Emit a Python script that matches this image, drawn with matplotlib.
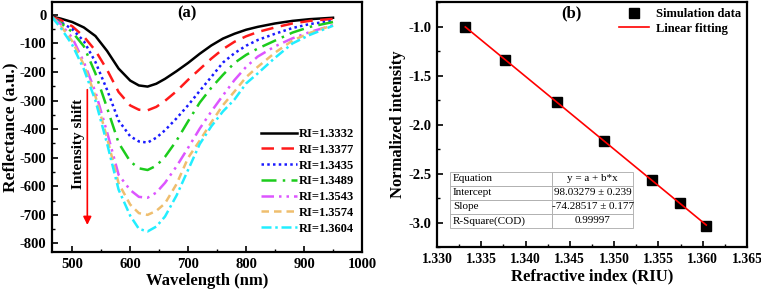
import numpy as np
import matplotlib
matplotlib.use("Agg")
import matplotlib.pyplot as plt
from matplotlib.ticker import MultipleLocator, FormatStrFormatter

plt.rcParams['font.family'] = ['Liberation Serif', 'DejaVu Serif']
plt.rcParams['font.weight'] = 'bold'
plt.rcParams['axes.unicode_minus'] = False

# ---- panel (a): reflectance spectra ----
wavelength = [465, 480, 500, 520, 540, 560, 580, 600, 615, 630, 645, 660, 680,
              700, 720, 740, 760, 780, 800, 820, 850, 880, 910, 950]
r_13332 = [-6, -13, -25, -44, -74, -126, -188, -230, -247, -251, -241, -224, -197,
           -168, -136, -107, -83, -66, -52, -42, -30, -21, -15, -10]
r_13377 = [-7, -18, -40, -76, -125, -192, -270, -317, -332, -334, -322, -301, -267,
           -227, -190, -153, -120, -94, -75, -60, -44, -30, -21, -14]
r_13435 = [-8, -25, -50, -92, -165, -262, -370, -425, -443, -447, -430, -404, -362,
           -316, -266, -217, -167, -134, -108, -88, -66, -46, -32, -21]
r_13489 = [-8, -28, -60, -110, -205, -325, -448, -513, -537, -543, -528, -497, -440,
           -372, -307, -255, -210, -168, -140, -118, -90, -62, -42, -25]
r_13543 = [-8, -32, -80, -165, -270, -410, -560, -613, -637, -640, -622, -588, -530,
           -465, -398, -338, -282, -228, -182, -146, -110, -82, -60, -36]
r_13574 = [-8, -38, -92, -175, -285, -430, -590, -664, -694, -700, -686, -660, -592,
           -500, -440, -376, -316, -268, -218, -182, -132, -90, -63, -36]
r_13604 = [-8, -45, -105, -190, -300, -450, -612, -703, -749, -758, -741, -706, -632,
           -542, -452, -390, -338, -296, -240, -205, -150, -100, -70, -38]

ri_labels = ['RI=1.3332', 'RI=1.3377', 'RI=1.3435', 'RI=1.3489',
             'RI=1.3543', 'RI=1.3574', 'RI=1.3604']

# ---- panel (b): normalized intensity vs refractive index ----
ri = [1.3332, 1.3377, 1.3435, 1.3489, 1.3543, 1.3574, 1.3604]
norm_int = [-1.0, -1.34, -1.77, -2.17, -2.57, -2.80, -3.03]
fit_a = 98.03279
fit_b = -74.28517
table_rows = [['Equation', 'y = a + b*x'],
              ['Intercept', '98.03279 \u00b1 0.239'],
              ['Slope', '-74.28517 \u00b1 0.177'],
              ['R-Square(COD)', '0.99997']]

fig = plt.figure(figsize=(7.61, 2.89), dpi=100)
ax1 = fig.add_axes([0.0683, 0.128, 0.4074, 0.865])
ax2 = fig.add_axes([0.5742, 0.145, 0.4074, 0.848])

styles = [
    ('black', '-'),
    ('#ff1a1a', (0, (5, 3))),
    ('#1a1aff', (0, (1, 1.3))),
    ('#1ccc1c', (0, (6, 2.5, 1, 2.5))),
    ('#dd55ff', (0, (5, 2, 1, 2, 1, 2))),
    ('#efbe6e', (0, (3, 2))),
    ('#22eeff', (0, (4, 1.5, 1, 1.5))),
]
curves = [r_13332, r_13377, r_13435, r_13489, r_13543, r_13574, r_13604]
for y, lab, (c, ls) in zip(curves, ri_labels, styles):
    ax1.plot(wavelength, y, color=c, linestyle=ls, lw=1.8, label=lab)

ax1.set_xlim(465, 1000)
ax1.set_ylim(-830, 45)
ax1.xaxis.set_major_locator(MultipleLocator(100))
ax1.xaxis.set_minor_locator(MultipleLocator(50))
ax1.yaxis.set_major_locator(MultipleLocator(100))
ax1.yaxis.set_minor_locator(MultipleLocator(50))
ax1.set_xlabel('Wavelength (nm)', fontsize=12, fontweight='bold', labelpad=2)
ax1.set_ylabel('Reflectance (a.u.)', fontsize=12.5, fontweight='bold', labelpad=1)
ax1.text(0.435, 0.985, '(a)', transform=ax1.transAxes, ha='center', va='top',
         fontsize=12, fontweight='bold')
ax1.annotate('', xy=(526, -745), xytext=(526, -252),
             arrowprops=dict(arrowstyle='-|>', color='red', lw=1.2,
                             mutation_scale=12))
ax1.text(510, -450, 'Intensity shift', rotation=90, ha='center', va='center',
         fontsize=11, fontweight='bold')
ax1.legend(loc='lower right', bbox_to_anchor=(1.0, 0.04), frameon=False,
           handlelength=2.9, handletextpad=0.2, labelspacing=0.3,
           borderaxespad=0.2, prop={'weight': 'bold', 'size': 9})

# panel (b)
ax2.plot(ri, norm_int, 's', color='black', ms=6.5, label='Simulation data')
fx = np.array([ri[0], ri[-1]])
ax2.plot(fx, fit_a + fit_b * fx, color='red', lw=1.2, label='Linear fitting')
ax2.set_xlim(1.330, 1.365)
ax2.set_ylim(-3.25, -0.75)
ax2.xaxis.set_major_locator(MultipleLocator(0.005))
ax2.xaxis.set_minor_locator(MultipleLocator(0.0025))
ax2.yaxis.set_major_locator(MultipleLocator(0.5))
ax2.yaxis.set_minor_locator(MultipleLocator(0.25))
ax2.xaxis.set_major_formatter(FormatStrFormatter('%.3f'))
ax2.yaxis.set_major_formatter(FormatStrFormatter('%.1f'))
ax2.set_xlabel('Refractive index (RIU)', fontsize=12, fontweight='bold', labelpad=2)
ax2.set_ylabel('Normalized intensity', fontsize=12, fontweight='bold', labelpad=2)
ax2.text(0.435, 0.985, '(b)', transform=ax2.transAxes, ha='center', va='top',
         fontsize=12, fontweight='bold')
ax2.legend(loc='upper right', bbox_to_anchor=(1.0, 1.0), frameon=False,
           handlelength=2.4, handletextpad=0.5, labelspacing=0.2,
           borderaxespad=0.1, prop={'weight': 'bold', 'size': 9})

tbl = ax2.table(cellText=table_rows, colWidths=[0.33, 0.26],
                bbox=[0.042, 0.078, 0.59, 0.229], cellLoc='center')
tbl.auto_set_font_size(False)
for (r, c), cell in tbl.get_celld().items():
    cell.set_edgecolor('#aaaaaa')
    cell.set_linewidth(0.6)
    cell.get_text().set_fontsize(8)
    cell.get_text().set_fontweight('normal')
    if c == 0:
        cell.get_text().set_ha('left')
        cell.PAD = 0.03
        cell._loc = 'left'

for ax in (ax1, ax2):
    ax.tick_params(which='both', direction='in', top=False, right=False,
                   labelsize=10.5, pad=4)
    ax.tick_params(which='major', length=4, width=1.2)
    ax.tick_params(which='minor', length=2.5, width=1.0)
    for sp in ax.spines.values():
        sp.set_linewidth(1.6)
ax2.tick_params(axis='x', labelsize=9.8)
for ax in (ax1, ax2):
    for lab in ax.get_xticklabels() + ax.get_yticklabels():
        lab.set_fontweight('bold')

fig.savefig('out.png', dpi=100)
